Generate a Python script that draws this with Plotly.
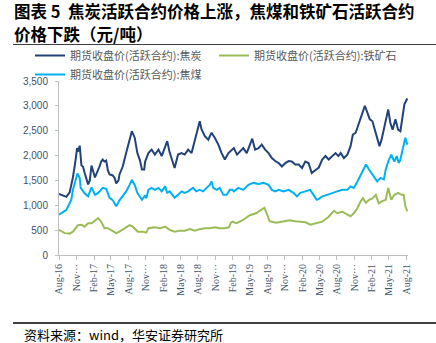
import plotly.graph_objects as go

# ---------------- data ----------------
coke_dates = [
    "2016-08-01","2016-08-20","2016-09-09","2016-09-26","2016-10-05","2016-10-13","2016-10-25","2016-11-04",
    "2016-11-10","2016-11-18","2016-11-27","2016-12-05","2016-12-14","2017-01-01","2017-01-10","2017-01-19",
    "2017-02-06","2017-02-23","2017-03-02","2017-03-11","2017-03-19","2017-03-28","2017-04-06","2017-04-15",
    "2017-04-24","2017-05-11","2017-05-20","2017-05-29","2017-06-10","2017-06-15","2017-07-02","2017-07-20",
    "2017-08-07","2017-08-19","2017-09-03","2017-09-17","2017-10-01","2017-10-11","2017-10-23","2017-10-28",
    "2017-11-14","2017-12-01","2017-12-18","2018-01-06","2018-01-23","2018-02-10","2018-02-21","2018-03-06",
    "2018-03-24","2018-04-01","2018-04-19","2018-05-07","2018-05-24","2018-06-11","2018-06-29","2018-07-12",
    "2018-07-24","2018-08-11","2018-08-20","2018-09-07","2018-09-25","2018-10-12","2018-10-29","2018-11-17",
    "2018-12-04","2018-12-21","2019-01-09","2019-01-30","2019-02-06","2019-02-23","2019-03-11","2019-03-28",
    "2019-04-15","2019-05-01","2019-05-14","2019-05-29","2019-06-16","2019-07-03","2019-07-21","2019-08-08",
    "2019-08-25","2019-09-12","2019-09-30","2019-10-17","2019-11-04","2019-11-21","2019-12-08","2019-12-26",
    "2020-01-13","2020-01-31","2020-02-17","2020-03-05","2020-03-22","2020-04-11","2020-04-28","2020-05-16",
    "2020-06-02","2020-06-19","2020-07-07","2020-07-25","2020-08-09","2020-08-21","2020-09-07","2020-09-25",
    "2020-10-12","2020-10-24","2020-11-08","2020-11-25","2020-12-13","2020-12-26","2021-01-09","2021-01-21",
    "2021-02-04","2021-02-18","2021-03-01","2021-03-13","2021-03-24","2021-04-05","2021-04-15","2021-04-28",
    "2021-05-09","2021-05-21","2021-06-05","2021-06-19","2021-07-01","2021-07-13","2021-07-22","2021-08-06",
]
coke_values = [
    1230, 1200, 1170, 1260, 1400, 1560, 1850, 2150,
    2080, 2200, 1800, 1780, 1650, 1420, 1500, 1800,
    1560, 1700, 1780, 1880, 1920, 1880, 1900, 1700,
    1620, 1600, 1550, 1440, 1500, 1620, 1780, 2050,
    2290, 2490, 2360, 2050, 1900, 1720, 1720, 1880,
    2050, 2120, 2020, 2120, 1990, 2190, 2290, 2060,
    1850, 1750, 2020, 2050, 2020, 2120, 2050, 2260,
    2460, 2690, 2530, 2390, 2320, 2460, 2360, 2220,
    2050, 1920, 2050, 2120, 2150, 2020, 2090, 2150,
    2050, 2190, 2340, 2120, 2150, 2220, 2120, 2050,
    1950, 1890, 1850, 1780, 1850, 1890, 1880, 1820,
    1820, 1750, 1880, 1850, 1650, 1710, 1760, 1920,
    1990, 1920, 1990, 2050, 1990, 2050, 1950, 2020,
    2190, 2420, 2460, 2660, 2830, 3000, 2860, 2730,
    2690, 2490, 2360, 2190, 2320, 2520, 2690, 2930,
    2660, 2520, 2730, 2520, 2490, 2830, 3030, 3150,
]

ore_dates = [
    "2016-08-01","2016-08-31","2016-09-26","2016-10-13","2016-11-09","2016-11-27","2016-12-14","2017-01-01",
    "2017-01-19","2017-02-06","2017-02-23","2017-03-11","2017-03-28","2017-04-15","2017-05-11","2017-05-29",
    "2017-06-15","2017-07-11","2017-08-07","2017-08-24","2017-09-20","2017-10-16","2017-11-03","2017-11-14",
    "2017-12-18","2018-01-14","2018-02-10","2018-03-06","2018-04-01","2018-04-28","2018-05-24","2018-06-20",
    "2018-07-16","2018-08-11","2018-09-07","2018-10-03","2018-10-29","2018-11-24","2018-12-21","2019-01-12",
    "2019-01-22","2019-01-30","2019-02-20","2019-03-25","2019-05-01","2019-06-03","2019-06-30","2019-07-12",
    "2019-07-17","2019-07-29","2019-08-13","2019-09-17","2019-10-22","2019-11-26","2019-12-26","2020-01-22",
    "2020-02-17","2020-03-14","2020-04-11","2020-05-16","2020-06-19","2020-07-16","2020-08-03","2020-08-30",
    "2020-09-25","2020-10-12","2020-10-29","2020-11-17","2020-12-04","2020-12-16","2021-01-01","2021-01-17",
    "2021-02-04","2021-02-22","2021-03-09","2021-03-24","2021-04-15","2021-04-28","2021-05-14","2021-05-30",
    "2021-06-19","2021-07-07","2021-07-18","2021-07-27","2021-08-06",
]
ore_values = [
    505, 440, 430, 470, 600, 610, 570, 640,
    640, 700, 740, 670, 540, 540, 470, 440,
    470, 540, 600, 570, 470, 470, 450, 540,
    560, 540, 570, 505, 470, 490, 490, 520,
    490, 520, 540, 540, 560, 540, 540, 560,
    650, 670, 640, 700, 800, 840, 900, 940,
    950, 840, 680, 650, 670, 700, 680, 670,
    660, 610, 640, 670, 770, 890, 840, 870,
    810, 780, 840, 940, 1080, 1140, 1050, 1110,
    1140, 1210, 1040, 1080, 1110, 1350, 1110, 1210,
    1250, 1210, 1210, 980, 880,
]

coal_dates = [
    "2016-08-01","2016-08-31","2016-09-09","2016-09-26","2016-10-05","2016-10-13","2016-11-06","2016-11-18",
    "2016-11-23","2016-12-14","2017-01-01","2017-01-19","2017-02-06","2017-02-23","2017-03-19","2017-04-06",
    "2017-04-24","2017-05-11","2017-05-29","2017-06-15","2017-07-02","2017-07-20","2017-08-07","2017-08-19",
    "2017-09-03","2017-09-17","2017-10-11","2017-10-28","2017-11-03","2017-11-14","2017-12-01","2017-12-18",
    "2018-01-06","2018-01-23","2018-02-10","2018-02-21","2018-03-06","2018-04-01","2018-04-19","2018-05-07",
    "2018-05-24","2018-06-11","2018-07-07","2018-07-24","2018-08-11","2018-08-29","2018-09-16","2018-10-03",
    "2018-10-12","2018-10-21","2018-11-08","2018-11-24","2018-12-13","2018-12-30","2019-01-17","2019-01-30",
    "2019-02-06","2019-03-02","2019-03-28","2019-04-24","2019-05-20","2019-06-16","2019-07-12","2019-08-08",
    "2019-08-25","2019-09-12","2019-09-30","2019-10-26","2019-11-21","2019-12-17","2020-01-04","2020-01-22",
    "2020-02-17","2020-03-14","2020-03-31","2020-04-17","2020-04-28","2020-05-16","2020-06-11","2020-07-07",
    "2020-08-03","2020-08-30","2020-09-25","2020-10-12","2020-10-29","2020-11-17","2020-12-04","2020-12-21",
    "2021-01-01","2021-01-17","2021-02-04","2021-02-18","2021-03-01","2021-03-18","2021-04-05","2021-04-15",
    "2021-04-28","2021-05-14","2021-05-30","2021-06-12","2021-06-22","2021-07-01","2021-07-13","2021-07-22",
    "2021-07-27","2021-08-06",
]
coal_values = [
    810, 900, 910, 1040, 1110, 1310, 1640, 1550,
    1350, 1240, 1180, 1360, 1210, 1250, 1350, 1330,
    1150, 1100, 980, 1100, 1180, 1280, 1410, 1510,
    1410, 1250, 1110, 1200, 1140, 1310, 1350, 1310,
    1350, 1280, 1380, 1250, 1280, 1150, 1210, 1280,
    1250, 1280, 1350, 1280, 1310, 1280, 1350, 1410,
    1480, 1350, 1310, 1350, 1210, 1210, 1310, 1310,
    1280, 1350, 1310, 1410, 1450, 1430, 1450, 1410,
    1310, 1280, 1310, 1280, 1310, 1250, 1180, 1250,
    1280, 1310, 1210, 1110, 1130, 1180, 1210, 1250,
    1280, 1310, 1310, 1380, 1350, 1480, 1620, 1750,
    1820, 1720, 1620, 1520, 1480, 1550, 1520, 1720,
    1880, 2020, 1880, 1990, 1850, 1920, 2120, 2320,
    2360, 2220,
]

series_names = ["期货收盘价(活跃合约):焦炭", "期货收盘价(活跃合约):铁矿石", "期货收盘价(活跃合约):焦煤"]

tick_dates = [
    "2016-08-01","2016-11-01","2017-02-01","2017-05-01","2017-08-01","2017-11-01","2018-02-01","2018-05-01",
    "2018-08-01","2018-11-01","2019-02-01","2019-05-01","2019-08-01","2019-11-01","2020-02-01","2020-05-01",
    "2020-08-01","2020-11-01","2021-02-01","2021-05-01","2021-08-01",
]
tick_labels = [
    "Aug-16","Nov···","Feb-17","May-17","Aug-17","Nov···","Feb-18","May-18",
    "Aug-18","Nov···","Feb-19","May-19","Aug-19","Nov···","Feb-20","May-20",
    "Aug-20","Nov···","Feb-21","May-21","Aug-21",
]
y_ticks = [0, 500, 1000, 1500, 2000, 2500, 3000, 3500]

title_line1 = "图表 5  焦炭活跃合约价格上涨，焦煤和铁矿石活跃合约"
title_line2 = "价格下跌（元/吨）"
source_text = "资料来源：wind，华安证券研究所"

# ---------------- layout geometry ----------------
W, H = 436, 343
ML, MR, MT, MB = 59, 28, 81, 88
PW = W - ML - MR
PH = H - MT - MB


def px_x(px):
    return (px - ML) / PW


def px_y(py):
    return (H - MB - py) / PH


colors = ["#21437A", "#9BBB59", "#00B0F0"]
legend_ids = ["legend", "legend2", "legend"]

fig = go.Figure()
for name, d, v, c, lg in zip(series_names,
                             [coke_dates, ore_dates, coal_dates],
                             [coke_values, ore_values, coal_values],
                             colors, legend_ids):
    fig.add_trace(go.Scatter(x=d, y=v, name=name, mode="lines", legend=lg,
                             line=dict(color=c, width=2)))

axis_col = "#BFBFBF"
label_col = "#44546A"
legend_font = dict(family="Noto Sans CJK SC", size=11, color="#595959")

fig.update_layout(
    width=W, height=H,
    margin=dict(l=ML, r=MR, t=MT, b=MB, pad=0),
    paper_bgcolor="white", plot_bgcolor="white",
    showlegend=True,
    legend=dict(orientation="v", x=px_x(30), y=px_y(41), xanchor="left", yanchor="top",
                font=legend_font, bgcolor="rgba(0,0,0,0)", tracegroupgap=0,
                traceorder="normal"),
    legend2=dict(orientation="v", x=px_x(214), y=px_y(41), xanchor="left", yanchor="top",
                 font=legend_font, bgcolor="rgba(0,0,0,0)"),
    xaxis=dict(
        type="date", range=["2016-08-01", "2021-08-10"],
        tickmode="array", tickvals=tick_dates, ticktext=tick_labels,
        tickangle=-90, showgrid=False, zeroline=False,
        showline=True, linecolor=axis_col, linewidth=1,
        ticks="outside", ticklen=4, tickcolor=axis_col,
        tickfont=dict(family="Liberation Serif", size=10, color=label_col),
    ),
    yaxis=dict(
        range=[0, 3500], tickmode="array", tickvals=y_ticks,
        tickformat=",", showgrid=False, zeroline=False,
        showline=True, linecolor=axis_col, linewidth=1,
        ticks="outside", ticklen=3, tickcolor=axis_col,
        ticklabelstandoff=5,
        tickfont=dict(family="Liberation Sans", size=10, color=label_col),
    ),
)

fig.add_annotation(text="<b>" + title_line1 + "</b>", xref="paper", yref="paper",
                   x=px_x(12), y=px_y(11), xanchor="left", yanchor="middle", showarrow=False,
                   font=dict(family="Noto Sans CJK SC", size=16.5, color="black"))
fig.add_annotation(text="<b>" + title_line2 + "</b>", xref="paper", yref="paper",
                   x=px_x(12), y=px_y(34), xanchor="left", yanchor="middle", showarrow=False,
                   font=dict(family="Noto Sans CJK SC", size=16.5, color="black"))
fig.add_annotation(text=source_text, xref="paper", yref="paper",
                   x=px_x(22), y=px_y(334), xanchor="left", yanchor="middle", showarrow=False,
                   font=dict(family="Noto Sans CJK SC", size=13, color="black"))

fig.add_shape(type="line", xref="paper", yref="paper",
              x0=px_x(13), x1=px_x(436), y0=px_y(44.5), y1=px_y(44.5),
              line=dict(color="#404040", width=1))
fig.add_shape(type="line", xref="paper", yref="paper",
              x0=px_x(13), x1=px_x(436), y0=px_y(323), y1=px_y(323),
              line=dict(color="black", width=1.5))

fig.write_html("out.html")
